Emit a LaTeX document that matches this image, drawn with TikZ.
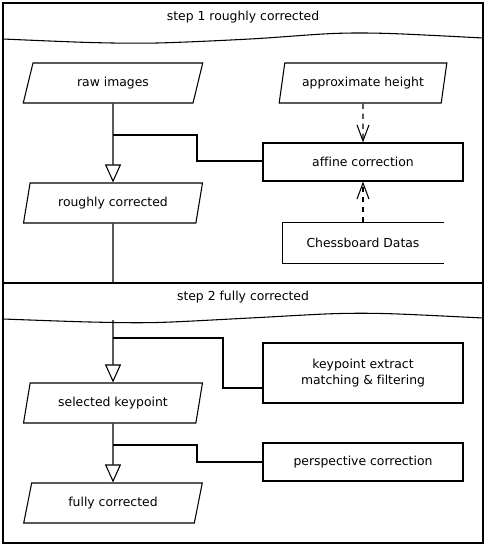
\documentclass[tikz,border=0pt]{standalone}
\usepackage{fontspec}
\setmainfont[Ligatures=NoCommon]{DejaVu Sans}
\usetikzlibrary{shapes.geometric}
\usetikzlibrary{arrows.meta}

\tikzset{
  data/.style={draw, trapezium, trapezium left angle=70, trapezium right angle=110,
    trapezium stretches=true, minimum width=135pt, minimum height=30pt, inner sep=0pt},
  task/.style={draw, rectangle, minimum width=150pt, minimum height=28.5pt, inner sep=0pt, align=center},
  flow/.style={-{Triangle[open, length=13.5pt, width=12pt]}},
  feed/.style={dash pattern=on 4pt off 3.5pt, -{Straight Barb[length=12pt, width=9pt]}}
}

\begin{document}
\begin{tikzpicture}[x=0.75pt, y=-0.75pt, line width=0.8pt, font=\fontsize{9.3}{11.5}\selectfont]
    \useasboundingbox (0,0) rectangle (486,544);
    \draw (3,3) rectangle (483,543);
    \draw (3,283) -- (483,283);
    % lane headers
    \node (head1) at (243,17) {step 1 roughly corrected};
    \draw plot [smooth] coordinates {(3,39) (90,42.5) (157,43) (250,39) (333,33.5) (390,33.5) (483,38)};
    \node (head2) at (243,297) {step 2 fully corrected};
    \draw plot [smooth] coordinates {(3,319) (90,322) (157,322.5) (250,318) (333,313.7) (390,313.7) (483,318)};

    % step 1
    \node [data] (raw) at (113,83) {raw images};
    \node [data, minimum width=126pt] (height) at (363,83) {approximate height};
    \node [task] (affine) at (363,162) {affine correction};
    \node [data] (rough) at (113,203) {roughly corrected};
    \node [minimum width=120pt, minimum height=30pt, inner sep=0pt] (chess) at (363,243) {Chessboard Datas};
    \draw (chess.north east) -- (chess.north west) -- (chess.south west) -- (chess.south east);

    \draw [flow] (raw.south) -- (rough.north);
    \coordinate (j1) at (113,135);
    \draw (j1) -- (197,135) -- (197,161) -- (affine.west |- 0,161);
    \draw [feed] (height.south) -- (affine.north);
    \draw [feed] (chess.north) -- (affine.south);
    \draw (rough.south) -- (113,283);

    % step 2
    \node [data] (select) at (113,403) {selected keypoint};
    \node [task, minimum height=45pt] (keypt) at (363,373) {keypoint extract\\matching \& filtering};
    \node [task] (persp) at (363,462) {perspective correction};
    \node [data] (full) at (113,503) {fully corrected};

    \coordinate (top2) at (113,320);
    \draw [flow] (top2) -- (select.north);
    \coordinate (j2) at (113,338);
    \draw (j2) -- (223,338) -- (223,388) -- (keypt.west |- 0,388);
    \draw [flow] (select.south) -- (full.north);
    \coordinate (j3) at (113,445);
    \draw (j3) -- (197,445) -- (197,462) -- (persp.west);
\end{tikzpicture}
\end{document}
